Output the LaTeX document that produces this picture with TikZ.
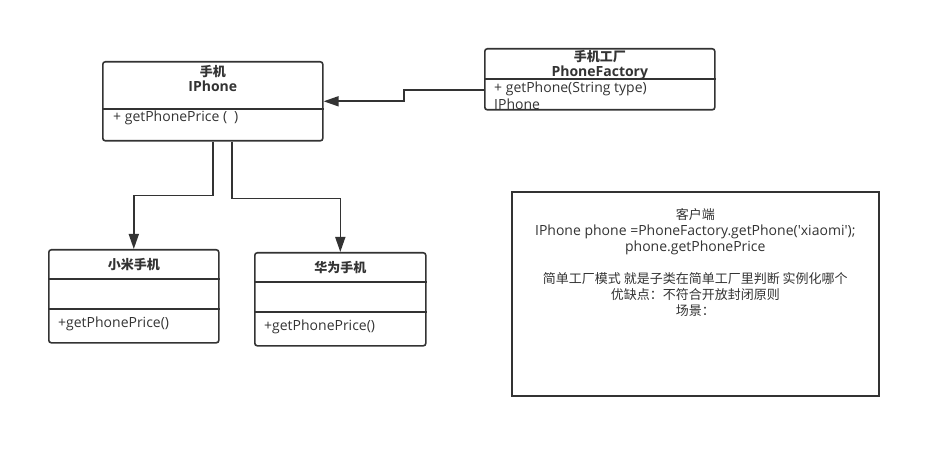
\documentclass[tikz,border=0pt]{standalone}
\usepackage{fontspec}
\setmainfont{Open Sans}
\newfontfamily\cjk{Noto Sans CJK SC}
\newcommand{\zh}[1]{{\cjk\fontsize{13}{16}\selectfont #1}}
\usepackage{tikz}
\usetikzlibrary{positioning,calc,arrows.meta}
\definecolor{linegray}{HTML}{333333}
\tikzset{umlbox/.style={draw=linegray,line width=1.6pt,rounded corners=2.5pt,inner sep=0pt,anchor=north west}}
\tikzset{divider/.style={draw=linegray,line width=1.6pt}}
\tikzset{link/.style={draw=linegray,line width=1.6pt,-{Triangle[width=10pt,length=15pt]}}}
\tikzset{title/.style={font=\fontsize{14}{15}\selectfont\bfseries,align=center,inner sep=0pt,text=linegray}}
\tikzset{member/.style={anchor=west,inner sep=0pt,text=linegray}}

\begin{document}
\begin{tikzpicture}
            [x=1pt,y=-1pt,
            every node/.style={font=\fontsize{14}{16}\selectfont}]
  \useasboundingbox (0,0) rectangle (940,457);

  % Classes
  \node[umlbox,minimum width=220pt,minimum height=79pt] (iphone) at (102,61) {};
  \draw[divider] ($(iphone.north west)+(0,48)$) -- ($(iphone.north east)+(0,48)$);
  \node[title] (iphonetitle) at ($(iphone.north)+(0,17)$) {\zh{手机}\\IPhone};
  \node[member] (iphoneprice) at ($(iphone.north west)+(11,57)$) {+ getPhonePrice (\enspace)};

  \node[umlbox,minimum width=230pt,minimum height=61pt] (factory) at (484,48) {};
  \draw[divider] ($(factory.north west)+(0,31)$) -- ($(factory.north east)+(0,31)$);
  \node[title] (factorytitle) at ($(factory.north)+(0,17)$) {\zh{手机工厂}\\PhoneFactory};
  \node[member] (factoryget) at ($(factory.north west)+(10,40.5)$) {+ getPhone(String type)};
  \node[member] (factorytype) at ($(factory.north west)+(10,56)$) {IPhone};

  \node[umlbox,minimum width=170pt,minimum height=93pt] (xiaomi) at (48,249) {};
  \draw[divider] ($(xiaomi.north west)+(0,30)$) -- ($(xiaomi.north east)+(0,30)$);
  \draw[divider] ($(xiaomi.north west)+(0,60)$) -- ($(xiaomi.north east)+(0,60)$);
  \node[title] (xiaomititle) at ($(xiaomi.north)+(0,16)$) {\zh{小米手机}};
  \node[member] (xiaomiprice) at ($(xiaomi.north west)+(10,75)$) {+getPhonePrice()};

  \node[umlbox,minimum width=171pt,minimum height=93pt] (huawei) at (254,252) {};
  \draw[divider] ($(huawei.north west)+(0,30)$) -- ($(huawei.north east)+(0,30)$);
  \draw[divider] ($(huawei.north west)+(0,60)$) -- ($(huawei.north east)+(0,60)$);
  \node[title] (huaweititle) at ($(huawei.north)+(0,16)$) {\zh{华为手机}};
  \node[member] (huaweiprice) at ($(huawei.north west)+(10,75)$) {+getPhonePrice()};

  % Client note
  \node[umlbox,rounded corners=0pt,minimum width=367pt,minimum height=204pt] (client) at (511,191) {};
  \node[anchor=north,align=center,inner sep=0pt,text=linegray]
    (clienttext) at ($(client.north)+(0,17)$)
    {\zh{客户端}\\IPhone phone =PhoneFactory.getPhone(\textquotesingle xiaomi\textquotesingle);\\phone.getPhonePrice\\[16pt]
     \zh{简单工厂模式 就是子类在简单工厂里判断 实例化哪个}\\
     \zh{优缺点：不符合开放封闭原则}\\\zh{场景：}};

  % Connectors
  \coordinate (factoryout) at ($(factory.north west)+(0,42)$);
  \draw[link] (factoryout) -- ++(-80,0) |- (iphone.east);
  \draw[link] (iphone.south) -- ++(0,54) -| (xiaomi.north);
  \draw[link] ($(iphone.south)+(19,0)$) -- ++(0,57) -| (huawei.north);

\end{tikzpicture}
\end{document}
